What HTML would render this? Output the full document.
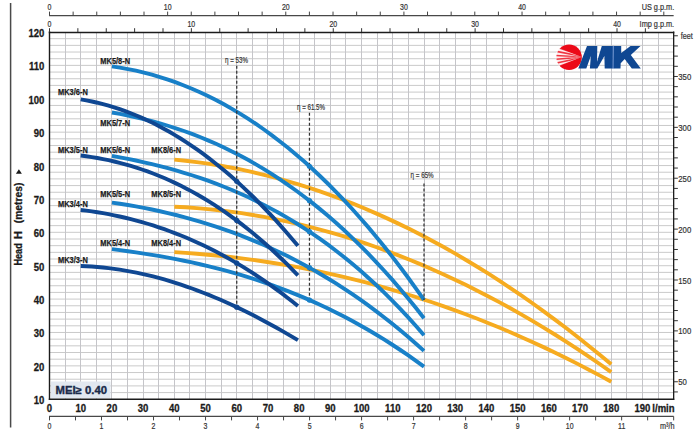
<!DOCTYPE html>
<html><head><meta charset="utf-8"><title>MK pump performance curves</title>
<style>
html,body{margin:0;padding:0;background:#fff;}
body{width:700px;height:435px;overflow:hidden;font-family:"Liberation Sans",sans-serif;}
svg text{font-family:"Liberation Sans",sans-serif;}
</style></head><body>
<svg width="700" height="435" viewBox="0 0 700 435" style="display:block">
<rect width="700" height="435" fill="#ffffff"/>
<line x1="10.6" y1="3" x2="10.6" y2="427.5" stroke="#4a4a4a" stroke-width="1.5"/>
<path d="M49.50 392.57H673.66M49.50 385.90H673.66M49.50 379.22H673.66M49.50 372.54H673.66M49.50 365.86H673.66M49.50 359.19H673.66M49.50 352.51H673.66M49.50 345.83H673.66M49.50 339.16H673.66M49.50 332.48H673.66M49.50 325.80H673.66M49.50 319.12H673.66M49.50 312.45H673.66M49.50 305.77H673.66M49.50 299.09H673.66M49.50 292.41H673.66M49.50 285.74H673.66M49.50 279.06H673.66M49.50 272.38H673.66M49.50 265.71H673.66M49.50 259.03H673.66M49.50 252.35H673.66M49.50 245.67H673.66M49.50 239.00H673.66M49.50 232.32H673.66M49.50 225.64H673.66M49.50 218.97H673.66M49.50 212.29H673.66M49.50 205.61H673.66M49.50 198.93H673.66M49.50 192.26H673.66M49.50 185.58H673.66M49.50 178.90H673.66M49.50 172.23H673.66M49.50 165.55H673.66M49.50 158.87H673.66M49.50 152.19H673.66M49.50 145.52H673.66M49.50 138.84H673.66M49.50 132.16H673.66M49.50 125.48H673.66M49.50 118.81H673.66M49.50 112.13H673.66M49.50 105.45H673.66M49.50 98.78H673.66M49.50 92.10H673.66M49.50 85.42H673.66M49.50 78.74H673.66M49.50 72.07H673.66M49.50 65.39H673.66M49.50 58.71H673.66M49.50 52.04H673.66M49.50 45.36H673.66M49.50 38.68H673.66" stroke="#bcbcbc" stroke-width="0.8" fill="none"/>
<path d="M65.10 32.00V399.25M80.71 32.00V399.25M96.31 32.00V399.25M111.92 32.00V399.25M127.52 32.00V399.25M143.12 32.00V399.25M158.73 32.00V399.25M174.33 32.00V399.25M189.94 32.00V399.25M205.54 32.00V399.25M221.14 32.00V399.25M236.75 32.00V399.25M252.35 32.00V399.25M267.96 32.00V399.25M283.56 32.00V399.25M299.16 32.00V399.25M314.77 32.00V399.25M330.37 32.00V399.25M345.98 32.00V399.25M361.58 32.00V399.25M377.18 32.00V399.25M392.79 32.00V399.25M408.39 32.00V399.25M424.00 32.00V399.25M439.60 32.00V399.25M455.20 32.00V399.25M470.81 32.00V399.25M486.41 32.00V399.25M502.02 32.00V399.25M517.62 32.00V399.25M533.22 32.00V399.25M548.83 32.00V399.25M564.43 32.00V399.25M580.04 32.00V399.25M595.64 32.00V399.25M611.24 32.00V399.25M626.85 32.00V399.25M642.45 32.00V399.25M658.06 32.00V399.25" stroke="#c5c5c9" stroke-width="1" fill="none" shape-rendering="crispEdges"/>
<rect x="51" y="381.5" width="59.5" height="17" fill="#e2e8f0"/>
<text x="55.5" y="393.8" font-size="10.8" font-weight="bold" fill="#1a2a4a" stroke="#1a2a4a" stroke-width="0.35" textLength="51.5" lengthAdjust="spacingAndGlyphs">MEI≥ 0.40</text>
<g>
<circle cx="569.1" cy="57.2" r="12.7" fill="#ec0a18"/>
<g>
<path d="M581.6 56.9L558.5 47.5L555.3 57.3L558.6 66.6Z" fill="#fff" opacity="0.18"/>
<path d="M581.6 56.9Q569.90 52.58 558.54 48.60L557.86 50.80Q569.90 52.58 581.6 56.9Z" fill="#fff" opacity="0.9"/>
<path d="M581.6 56.9Q568.80 54.86 556.15 52.36L555.85 54.64Q568.80 54.86 581.6 56.9Z" fill="#fff" opacity="0.9"/>
<path d="M581.6 56.9Q568.60 57.14 555.58 56.15L555.62 58.45Q568.60 57.14 581.6 56.9Z" fill="#fff" opacity="0.9"/>
<path d="M581.6 56.9Q568.90 59.42 556.01 59.97L556.39 62.23Q568.90 59.42 581.6 56.9Z" fill="#fff" opacity="0.9"/>
<path d="M581.6 56.9Q570.00 61.52 558.04 63.51L558.76 65.69Q570.00 61.52 581.6 56.9Z" fill="#fff" opacity="0.9"/>
</g>
<rect x="612.2" y="45.9" width="2" height="22.6" fill="#6a8fcc"/>
<path d="M578.3 68.5L587 45.9L597.3 45.9L597 61.7L601.8 45.9L612.8 45.9L612.6 68.5L604.7 68.5L604.4 55.9L597.3 68.5L589.9 68.5L590.8 55.9L586.3 68.5Z" fill="#0f4792"/>
<path d="M613.6 68.5L614 45.9L621.2 45.9L621.2 53L630.5 45.9L640.5 45.9L630.8 54.9L640.8 68.5L631.8 68.5L624.7 59.1L620.7 63.3L620.5 68.5Z" fill="#0f4792"/>
</g>
<path d="M174.33 159.59L185.53 160.73L196.74 162.09L207.94 163.66L219.14 165.46L230.35 167.47L241.55 169.69L252.75 172.14L263.95 174.80L275.16 177.68L286.36 180.78L297.56 184.09L308.77 187.62L319.97 191.37L331.17 195.33L342.38 199.51L353.58 203.90L364.78 208.51L375.98 213.34L387.19 218.38L398.39 223.64L409.59 229.11L420.80 234.80L432.00 240.71L443.20 246.83L454.40 253.16L465.61 259.71L476.81 266.47L488.01 273.45L499.22 280.65L510.42 288.06L521.62 295.68L532.82 303.52L544.03 311.57L555.23 319.83L566.43 328.31L577.64 337.00L588.84 345.91L600.04 355.03L611.24 364.36" stroke="#f6ab1f" stroke-width="3.9" fill="none" stroke-linecap="butt"/>
<path d="M174.33 206.70L185.53 207.30L196.74 208.09L207.94 209.07L219.14 210.25L230.35 211.63L241.55 213.19L252.75 214.95L263.95 216.90L275.16 219.05L286.36 221.38L297.56 223.91L308.77 226.63L319.97 229.55L331.17 232.65L342.38 235.95L353.58 239.44L364.78 243.12L375.98 246.99L387.19 251.05L398.39 255.31L409.59 259.75L420.80 264.38L432.00 269.21L443.20 274.22L454.40 279.42L465.61 284.82L476.81 290.40L488.01 296.17L499.22 302.13L510.42 308.28L521.62 314.62L532.82 321.14L544.03 327.86L555.23 334.76L566.43 341.85L577.64 349.13L588.84 356.60L600.04 364.25L611.24 372.09" stroke="#f6ab1f" stroke-width="3.9" fill="none" stroke-linecap="butt"/>
<path d="M174.33 252.17L185.53 252.88L196.74 253.72L207.94 254.69L219.14 255.79L230.35 257.01L241.55 258.37L252.75 259.86L263.95 261.49L275.16 263.24L286.36 265.13L297.56 267.16L308.77 269.32L319.97 271.62L331.17 274.05L342.38 276.62L353.58 279.34L364.78 282.19L375.98 285.18L387.19 288.31L398.39 291.58L409.59 295.00L420.80 298.56L432.00 302.26L443.20 306.11L454.40 310.10L465.61 314.24L476.81 318.53L488.01 322.97L499.22 327.55L510.42 332.28L521.62 337.17L532.82 342.20L544.03 347.39L555.23 352.73L566.43 358.22L577.64 363.87L588.84 369.67L600.04 375.62L611.24 381.74" stroke="#f6ab1f" stroke-width="3.9" fill="none" stroke-linecap="butt"/>
<path d="M111.92 66.40L119.92 67.62L127.92 69.05L135.92 70.71L143.92 72.59L151.93 74.70L159.93 77.04L167.93 79.61L175.93 82.41L183.93 85.46L191.94 88.74L199.94 92.27L207.94 96.04L215.94 100.06L223.94 104.33L231.95 108.85L239.95 113.63L247.95 118.66L255.95 123.96L263.95 129.52L271.96 135.34L279.96 141.43L287.96 147.80L295.96 154.44L303.97 161.35L311.97 168.54L319.97 176.01L327.97 183.77L335.97 191.81L343.98 200.14L351.98 208.77L359.98 217.68L367.98 226.90L375.98 236.41L383.99 246.22L391.99 256.34L399.99 266.76L407.99 277.50L415.99 288.54L424.00 299.90" stroke="#1880c8" stroke-width="3.9" fill="none" stroke-linecap="butt"/>
<path d="M111.92 112.52L119.92 113.95L127.92 115.52L135.92 117.24L143.92 119.12L151.93 121.16L159.93 123.37L167.93 125.75L175.93 128.30L183.93 131.02L191.94 133.94L199.94 137.04L207.94 140.33L215.94 143.82L223.94 147.51L231.95 151.41L239.95 155.51L247.95 159.83L255.95 164.37L263.95 169.14L271.96 174.13L279.96 179.35L287.96 184.81L295.96 190.52L303.97 196.46L311.97 202.66L319.97 209.12L327.97 215.83L335.97 222.81L343.98 230.05L351.98 237.57L359.98 245.37L367.98 253.44L375.98 261.81L383.99 270.46L391.99 279.41L399.99 288.66L407.99 298.21L415.99 308.08L424.00 318.25" stroke="#1880c8" stroke-width="3.9" fill="none" stroke-linecap="butt"/>
<path d="M111.92 155.86L119.92 157.32L127.92 158.88L135.92 160.53L143.92 162.28L151.93 164.14L159.93 166.11L167.93 168.20L175.93 170.42L183.93 172.77L191.94 175.26L199.94 177.89L207.94 180.68L215.94 183.62L223.94 186.72L231.95 190.00L239.95 193.44L247.95 197.07L255.95 200.89L263.95 204.90L271.96 209.11L279.96 213.52L287.96 218.15L295.96 223.00L303.97 228.07L311.97 233.37L319.97 238.90L327.97 244.68L335.97 250.71L343.98 256.99L351.98 263.54L359.98 270.35L367.98 277.43L375.98 284.79L383.99 292.44L391.99 300.38L399.99 308.62L407.99 317.16L415.99 326.01L424.00 335.18" stroke="#1880c8" stroke-width="3.9" fill="none" stroke-linecap="butt"/>
<path d="M111.92 202.58L119.92 203.77L127.92 205.05L135.92 206.44L143.92 207.93L151.93 209.53L159.93 211.24L167.93 213.07L175.93 215.01L183.93 217.08L191.94 219.26L199.94 221.58L207.94 224.03L215.94 226.60L223.94 229.32L231.95 232.18L239.95 235.18L247.95 238.32L255.95 241.62L263.95 245.06L271.96 248.66L279.96 252.43L287.96 256.35L295.96 260.44L303.97 264.69L311.97 269.12L319.97 273.72L327.97 278.50L335.97 283.46L343.98 288.61L351.98 293.94L359.98 299.46L367.98 305.18L375.98 311.09L383.99 317.20L391.99 323.52L399.99 330.04L407.99 336.77L415.99 343.71L424.00 350.87" stroke="#1880c8" stroke-width="3.9" fill="none" stroke-linecap="butt"/>
<path d="M111.92 249.18L119.92 250.18L127.92 251.24L135.92 252.37L143.92 253.57L151.93 254.85L159.93 256.20L167.93 257.63L175.93 259.15L183.93 260.75L191.94 262.45L199.94 264.24L207.94 266.12L215.94 268.11L223.94 270.20L231.95 272.41L239.95 274.72L247.95 277.15L255.95 279.70L263.95 282.36L271.96 285.16L279.96 288.08L287.96 291.14L295.96 294.33L303.97 297.66L311.97 301.13L319.97 304.75L327.97 308.52L335.97 312.45L343.98 316.52L351.98 320.76L359.98 325.17L367.98 329.73L375.98 334.47L383.99 339.39L391.99 344.48L399.99 349.75L407.99 355.20L415.99 360.85L424.00 366.68" stroke="#1880c8" stroke-width="3.9" fill="none" stroke-linecap="butt"/>
<path d="M80.71 99.39L86.28 100.36L91.85 101.48L97.42 102.73L102.99 104.12L108.56 105.66L114.12 107.34L119.69 109.16L125.26 111.12L130.83 113.23L136.40 115.48L141.97 117.87L147.54 120.42L153.11 123.10L158.68 125.94L164.25 128.92L169.82 132.04L175.39 135.32L180.96 138.74L186.53 142.31L192.10 146.04L197.67 149.91L203.24 153.93L208.80 158.11L214.37 162.43L219.94 166.91L225.51 171.54L231.08 176.32L236.65 181.26L242.22 186.35L247.79 191.60L253.36 197.00L258.93 202.56L264.50 208.27L270.07 214.14L275.64 220.17L281.21 226.36L286.78 232.70L292.35 239.21L297.92 245.87" stroke="#0f4792" stroke-width="3.9" fill="none" stroke-linecap="butt"/>
<path d="M80.71 155.53L86.28 156.26L91.85 157.09L97.42 158.02L102.99 159.06L108.56 160.21L114.12 161.48L119.69 162.85L125.26 164.34L130.83 165.94L136.40 167.66L141.97 169.50L147.54 171.46L153.11 173.54L158.68 175.74L164.25 178.07L169.82 180.52L175.39 183.11L180.96 185.82L186.53 188.66L192.10 191.63L197.67 194.74L203.24 197.99L208.80 201.37L214.37 204.89L219.94 208.55L225.51 212.35L231.08 216.30L236.65 220.39L242.22 224.62L247.79 229.01L253.36 233.54L258.93 238.23L264.50 243.06L270.07 248.06L275.64 253.20L281.21 258.51L286.78 263.97L292.35 269.60L297.92 275.39" stroke="#0f4792" stroke-width="3.9" fill="none" stroke-linecap="butt"/>
<path d="M80.71 209.95L86.28 210.64L91.85 211.40L97.42 212.25L102.99 213.18L108.56 214.20L114.12 215.30L119.69 216.49L125.26 217.76L130.83 219.13L136.40 220.58L141.97 222.12L147.54 223.75L153.11 225.48L158.68 227.30L164.25 229.21L169.82 231.22L175.39 233.32L180.96 235.52L186.53 237.82L192.10 240.22L197.67 242.72L203.24 245.32L208.80 248.03L214.37 250.83L219.94 253.74L225.51 256.76L231.08 259.88L236.65 263.11L242.22 266.45L247.79 269.90L253.36 273.46L258.93 277.13L264.50 280.91L270.07 284.81L275.64 288.82L281.21 292.94L286.78 297.18L292.35 301.54L297.92 306.02" stroke="#0f4792" stroke-width="3.9" fill="none" stroke-linecap="butt"/>
<path d="M80.71 266.04L86.28 266.25L91.85 266.57L97.42 266.98L102.99 267.50L108.56 268.12L114.12 268.83L119.69 269.64L125.26 270.55L130.83 271.55L136.40 272.65L141.97 273.83L147.54 275.11L153.11 276.48L158.68 277.94L164.25 279.49L169.82 281.13L175.39 282.85L180.96 284.65L186.53 286.54L192.10 288.51L197.67 290.57L203.24 292.70L208.80 294.91L214.37 297.21L219.94 299.57L225.51 302.02L231.08 304.54L236.65 307.13L242.22 309.79L247.79 312.53L253.36 315.34L258.93 318.21L264.50 321.16L270.07 324.17L275.64 327.24L281.21 330.39L286.78 333.59L292.35 336.86L297.92 340.19" stroke="#0f4792" stroke-width="3.9" fill="none" stroke-linecap="butt"/>
<line x1="236.75" y1="65.8" x2="236.75" y2="307.17" stroke="#333" stroke-width="1.25" stroke-dasharray="3 2"/>
<circle cx="236.75" cy="181.35" r="2.6" fill="#0f4792"/>
<circle cx="236.75" cy="220.46" r="2.6" fill="#0f4792"/>
<circle cx="236.75" cy="263.17" r="2.6" fill="#0f4792"/>
<circle cx="236.75" cy="307.17" r="2.6" fill="#0f4792"/>
<text x="225" y="62.9" font-size="8.8" fill="#333" stroke="#333" stroke-width="0.2" textLength="23.0" lengthAdjust="spacingAndGlyphs">η = 53%</text>
<line x1="309.46" y1="112.8" x2="309.46" y2="300.03" stroke="#333" stroke-width="1.25" stroke-dasharray="3 2"/>
<circle cx="309.46" cy="166.26" r="2.6" fill="#1880c8"/>
<circle cx="309.46" cy="200.70" r="2.6" fill="#1880c8"/>
<circle cx="309.46" cy="231.68" r="2.6" fill="#1880c8"/>
<circle cx="309.46" cy="267.72" r="2.6" fill="#1880c8"/>
<circle cx="309.46" cy="300.03" r="2.6" fill="#1880c8"/>
<text x="297" y="109.9" font-size="8.8" fill="#333" stroke="#333" stroke-width="0.2" textLength="28.0" lengthAdjust="spacingAndGlyphs">η = 61.5%</text>
<line x1="424.00" y1="183.6" x2="424.00" y2="299.90" stroke="#333" stroke-width="1.25" stroke-dasharray="3 2"/>
<text x="410.5" y="178.0" font-size="8.8" fill="#333" stroke="#333" stroke-width="0.2" textLength="23.2" lengthAdjust="spacingAndGlyphs">η = 65%</text>
<path d="M49.50 31.30V400.05" stroke="#1c1c1c" stroke-width="1.4" fill="none"/>
<path d="M48.80 32.50H674.26" stroke="#1c1c1c" stroke-width="1.6" fill="none"/>
<path d="M48.80 399.25H674.26" stroke="#1c1c1c" stroke-width="1.6" fill="none"/>
<path d="M673.66 31.50V400.05" stroke="#1c1c1c" stroke-width="1.3" fill="none"/>
<path d="M49.50 32.00V28.20M77.87 32.00V28.20M106.25 32.00V28.20M134.62 32.00V28.20M163.00 32.00V28.20M191.37 32.00V28.20M219.75 32.00V28.20M248.12 32.00V28.20M276.50 32.00V28.20M304.87 32.00V28.20M333.25 32.00V28.20M361.62 32.00V28.20M390.00 32.00V28.20M418.37 32.00V28.20M446.75 32.00V28.20M475.12 32.00V28.20M503.50 32.00V28.20M531.87 32.00V28.20M560.25 32.00V28.20M588.62 32.00V28.20M617.00 32.00V28.20M645.37 32.00V28.20" stroke="#333" stroke-width="1" fill="none"/>
<path d="M49.10 15.7H673.66" stroke="#484848" stroke-width="1.3" fill="none"/>
<path d="M49.50 15.7V11.6M73.13 15.7V11.6M96.75 15.7V11.6M120.38 15.7V11.6M144.01 15.7V11.6M167.64 15.7V11.6M191.26 15.7V11.6M214.89 15.7V11.6M238.52 15.7V11.6M262.14 15.7V11.6M285.77 15.7V11.6M309.40 15.7V11.6M333.02 15.7V11.6M356.65 15.7V11.6M380.28 15.7V11.6M403.91 15.7V11.6M427.53 15.7V11.6M451.16 15.7V11.6M474.79 15.7V11.6M498.41 15.7V11.6M522.04 15.7V11.6M545.67 15.7V11.6M569.29 15.7V11.6M592.92 15.7V11.6M616.55 15.7V11.6M640.18 15.7V11.6M663.80 15.7V11.6" stroke="#444" stroke-width="1" fill="none"/>
<path d="M49.10 416.3H673.66" stroke="#484848" stroke-width="1.3" fill="none"/>
<path d="M49.50 416.3V420.4M75.51 416.3V420.4M101.51 416.3V420.4M127.52 416.3V420.4M153.53 416.3V420.4M179.53 416.3V420.4M205.54 416.3V420.4M231.55 416.3V420.4M257.55 416.3V420.4M283.56 416.3V420.4M309.57 416.3V420.4M335.57 416.3V420.4M361.58 416.3V420.4M387.59 416.3V420.4M413.59 416.3V420.4M439.60 416.3V420.4M465.61 416.3V420.4M491.61 416.3V420.4M517.62 416.3V420.4M543.63 416.3V420.4M569.63 416.3V420.4M595.64 416.3V420.4M621.65 416.3V420.4M647.65 416.3V420.4M673.66 416.3V420.4" stroke="#444" stroke-width="1" fill="none"/>
<path d="M673.66 391.93H677.86M673.66 381.76H677.86M673.66 371.58H677.86M673.66 361.40H677.86M673.66 351.23H677.86M673.66 341.05H677.86M673.66 330.88H677.86M673.66 320.70H677.86M673.66 310.52H677.86M673.66 300.35H677.86M673.66 290.17H677.86M673.66 280.00H677.86M673.66 269.82H677.86M673.66 259.64H677.86M673.66 249.47H677.86M673.66 239.29H677.86M673.66 229.11H677.86M673.66 218.94H677.86M673.66 208.76H677.86M673.66 198.59H677.86M673.66 188.41H677.86M673.66 178.23H677.86M673.66 168.06H677.86M673.66 157.88H677.86M673.66 147.71H677.86M673.66 137.53H677.86M673.66 127.35H677.86M673.66 117.18H677.86M673.66 107.00H677.86M673.66 96.83H677.86M673.66 86.65H677.86M673.66 76.47H677.86M673.66 66.30H677.86M673.66 56.12H677.86M673.66 45.95H677.86M673.66 35.77H677.86" stroke="#333" stroke-width="1" fill="none"/>
<text transform="translate(49.50,10.00) scale(0.72,1)" font-size="9.7" font-weight="normal" text-anchor="middle" fill="#333" stroke="#333" stroke-width="0.22" >0</text>
<text transform="translate(49.50,26.90) scale(0.72,1)" font-size="9.7" font-weight="normal" text-anchor="middle" fill="#333" stroke="#333" stroke-width="0.22" >0</text>
<text transform="translate(167.64,10.00) scale(0.72,1)" font-size="9.7" font-weight="normal" text-anchor="middle" fill="#333" stroke="#333" stroke-width="0.22" >10</text>
<text transform="translate(191.37,26.90) scale(0.72,1)" font-size="9.7" font-weight="normal" text-anchor="middle" fill="#333" stroke="#333" stroke-width="0.22" >10</text>
<text transform="translate(285.77,10.00) scale(0.72,1)" font-size="9.7" font-weight="normal" text-anchor="middle" fill="#333" stroke="#333" stroke-width="0.22" >20</text>
<text transform="translate(333.25,26.90) scale(0.72,1)" font-size="9.7" font-weight="normal" text-anchor="middle" fill="#333" stroke="#333" stroke-width="0.22" >20</text>
<text transform="translate(403.91,10.00) scale(0.72,1)" font-size="9.7" font-weight="normal" text-anchor="middle" fill="#333" stroke="#333" stroke-width="0.22" >30</text>
<text transform="translate(475.12,26.90) scale(0.72,1)" font-size="9.7" font-weight="normal" text-anchor="middle" fill="#333" stroke="#333" stroke-width="0.22" >30</text>
<text transform="translate(522.04,10.00) scale(0.72,1)" font-size="9.7" font-weight="normal" text-anchor="middle" fill="#333" stroke="#333" stroke-width="0.22" >40</text>
<text transform="translate(617.00,26.90) scale(0.72,1)" font-size="9.7" font-weight="normal" text-anchor="middle" fill="#333" stroke="#333" stroke-width="0.22" >40</text>
<text transform="translate(674.16,10.00) scale(0.755,1)" font-size="9.7" font-weight="normal" text-anchor="end" fill="#333" stroke="#333" stroke-width="0.22" >US g.p.m.</text>
<text transform="translate(674.16,26.90) scale(0.755,1)" font-size="9.7" font-weight="normal" text-anchor="end" fill="#333" stroke="#333" stroke-width="0.22" >Imp g.p.m.</text>
<text transform="translate(680.80,38.90) scale(0.745,1)" font-size="9.7" font-weight="normal" text-anchor="start" fill="#333" stroke="#333" stroke-width="0.22" >feet</text>
<text transform="translate(678.30,385.36) scale(0.8,1)" font-size="9.7" font-weight="normal" text-anchor="start" fill="#333" stroke="#333" stroke-width="0.22" >50</text>
<text transform="translate(678.30,334.48) scale(0.8,1)" font-size="9.7" font-weight="normal" text-anchor="start" fill="#333" stroke="#333" stroke-width="0.22" >100</text>
<text transform="translate(678.30,283.60) scale(0.8,1)" font-size="9.7" font-weight="normal" text-anchor="start" fill="#333" stroke="#333" stroke-width="0.22" >150</text>
<text transform="translate(678.30,232.71) scale(0.8,1)" font-size="9.7" font-weight="normal" text-anchor="start" fill="#333" stroke="#333" stroke-width="0.22" >200</text>
<text transform="translate(678.30,181.83) scale(0.8,1)" font-size="9.7" font-weight="normal" text-anchor="start" fill="#333" stroke="#333" stroke-width="0.22" >250</text>
<text transform="translate(678.30,130.95) scale(0.8,1)" font-size="9.7" font-weight="normal" text-anchor="start" fill="#333" stroke="#333" stroke-width="0.22" >300</text>
<text transform="translate(678.30,80.07) scale(0.8,1)" font-size="9.7" font-weight="normal" text-anchor="start" fill="#333" stroke="#333" stroke-width="0.22" >350</text>
<text transform="translate(49.50,428.60) scale(0.72,1)" font-size="9.7" font-weight="normal" text-anchor="middle" fill="#333" stroke="#333" stroke-width="0.22" >0</text>
<text transform="translate(101.51,428.60) scale(0.72,1)" font-size="9.7" font-weight="normal" text-anchor="middle" fill="#333" stroke="#333" stroke-width="0.22" >1</text>
<text transform="translate(153.53,428.60) scale(0.72,1)" font-size="9.7" font-weight="normal" text-anchor="middle" fill="#333" stroke="#333" stroke-width="0.22" >2</text>
<text transform="translate(205.54,428.60) scale(0.72,1)" font-size="9.7" font-weight="normal" text-anchor="middle" fill="#333" stroke="#333" stroke-width="0.22" >3</text>
<text transform="translate(257.55,428.60) scale(0.72,1)" font-size="9.7" font-weight="normal" text-anchor="middle" fill="#333" stroke="#333" stroke-width="0.22" >4</text>
<text transform="translate(309.57,428.60) scale(0.72,1)" font-size="9.7" font-weight="normal" text-anchor="middle" fill="#333" stroke="#333" stroke-width="0.22" >5</text>
<text transform="translate(361.58,428.60) scale(0.72,1)" font-size="9.7" font-weight="normal" text-anchor="middle" fill="#333" stroke="#333" stroke-width="0.22" >6</text>
<text transform="translate(413.59,428.60) scale(0.72,1)" font-size="9.7" font-weight="normal" text-anchor="middle" fill="#333" stroke="#333" stroke-width="0.22" >7</text>
<text transform="translate(465.61,428.60) scale(0.72,1)" font-size="9.7" font-weight="normal" text-anchor="middle" fill="#333" stroke="#333" stroke-width="0.22" >8</text>
<text transform="translate(517.62,428.60) scale(0.72,1)" font-size="9.7" font-weight="normal" text-anchor="middle" fill="#333" stroke="#333" stroke-width="0.22" >9</text>
<text transform="translate(569.63,428.60) scale(0.72,1)" font-size="9.7" font-weight="normal" text-anchor="middle" fill="#333" stroke="#333" stroke-width="0.22" >10</text>
<text transform="translate(621.65,428.60) scale(0.72,1)" font-size="9.7" font-weight="normal" text-anchor="middle" fill="#333" stroke="#333" stroke-width="0.22" >11</text>
<text transform="translate(674.46,428.60) scale(0.75,1)" font-size="9.7" font-weight="normal" text-anchor="end" fill="#333" stroke="#333" stroke-width="0.22" >m³/h</text>
<text transform="translate(44.40,404.25) scale(0.9,1)" font-size="10.6" font-weight="bold" text-anchor="end" fill="#1a1a1a" stroke="#1a1a1a" stroke-width="0.3" >10</text>
<text transform="translate(44.40,370.86) scale(0.9,1)" font-size="10.6" font-weight="bold" text-anchor="end" fill="#1a1a1a" stroke="#1a1a1a" stroke-width="0.3" >20</text>
<text transform="translate(44.40,337.48) scale(0.9,1)" font-size="10.6" font-weight="bold" text-anchor="end" fill="#1a1a1a" stroke="#1a1a1a" stroke-width="0.3" >30</text>
<text transform="translate(44.40,304.09) scale(0.9,1)" font-size="10.6" font-weight="bold" text-anchor="end" fill="#1a1a1a" stroke="#1a1a1a" stroke-width="0.3" >40</text>
<text transform="translate(44.40,270.71) scale(0.9,1)" font-size="10.6" font-weight="bold" text-anchor="end" fill="#1a1a1a" stroke="#1a1a1a" stroke-width="0.3" >50</text>
<text transform="translate(44.40,237.32) scale(0.9,1)" font-size="10.6" font-weight="bold" text-anchor="end" fill="#1a1a1a" stroke="#1a1a1a" stroke-width="0.3" >60</text>
<text transform="translate(44.40,203.93) scale(0.9,1)" font-size="10.6" font-weight="bold" text-anchor="end" fill="#1a1a1a" stroke="#1a1a1a" stroke-width="0.3" >70</text>
<text transform="translate(44.40,170.55) scale(0.9,1)" font-size="10.6" font-weight="bold" text-anchor="end" fill="#1a1a1a" stroke="#1a1a1a" stroke-width="0.3" >80</text>
<text transform="translate(44.40,137.16) scale(0.9,1)" font-size="10.6" font-weight="bold" text-anchor="end" fill="#1a1a1a" stroke="#1a1a1a" stroke-width="0.3" >90</text>
<text transform="translate(44.40,103.78) scale(0.9,1)" font-size="10.6" font-weight="bold" text-anchor="end" fill="#1a1a1a" stroke="#1a1a1a" stroke-width="0.3" >100</text>
<text transform="translate(44.40,70.39) scale(0.9,1)" font-size="10.6" font-weight="bold" text-anchor="end" fill="#1a1a1a" stroke="#1a1a1a" stroke-width="0.3" >110</text>
<text transform="translate(44.40,37.00) scale(0.9,1)" font-size="10.6" font-weight="bold" text-anchor="end" fill="#1a1a1a" stroke="#1a1a1a" stroke-width="0.3" >120</text>
<text transform="translate(49.50,412.00) scale(0.9,1)" font-size="10.6" font-weight="bold" text-anchor="middle" fill="#1a1a1a" stroke="#1a1a1a" stroke-width="0.3" >0</text>
<text transform="translate(80.71,412.00) scale(0.9,1)" font-size="10.6" font-weight="bold" text-anchor="middle" fill="#1a1a1a" stroke="#1a1a1a" stroke-width="0.3" >10</text>
<text transform="translate(111.92,412.00) scale(0.9,1)" font-size="10.6" font-weight="bold" text-anchor="middle" fill="#1a1a1a" stroke="#1a1a1a" stroke-width="0.3" >20</text>
<text transform="translate(143.12,412.00) scale(0.9,1)" font-size="10.6" font-weight="bold" text-anchor="middle" fill="#1a1a1a" stroke="#1a1a1a" stroke-width="0.3" >30</text>
<text transform="translate(174.33,412.00) scale(0.9,1)" font-size="10.6" font-weight="bold" text-anchor="middle" fill="#1a1a1a" stroke="#1a1a1a" stroke-width="0.3" >40</text>
<text transform="translate(205.54,412.00) scale(0.9,1)" font-size="10.6" font-weight="bold" text-anchor="middle" fill="#1a1a1a" stroke="#1a1a1a" stroke-width="0.3" >50</text>
<text transform="translate(236.75,412.00) scale(0.9,1)" font-size="10.6" font-weight="bold" text-anchor="middle" fill="#1a1a1a" stroke="#1a1a1a" stroke-width="0.3" >60</text>
<text transform="translate(267.96,412.00) scale(0.9,1)" font-size="10.6" font-weight="bold" text-anchor="middle" fill="#1a1a1a" stroke="#1a1a1a" stroke-width="0.3" >70</text>
<text transform="translate(299.16,412.00) scale(0.9,1)" font-size="10.6" font-weight="bold" text-anchor="middle" fill="#1a1a1a" stroke="#1a1a1a" stroke-width="0.3" >80</text>
<text transform="translate(330.37,412.00) scale(0.9,1)" font-size="10.6" font-weight="bold" text-anchor="middle" fill="#1a1a1a" stroke="#1a1a1a" stroke-width="0.3" >90</text>
<text transform="translate(361.58,412.00) scale(0.9,1)" font-size="10.6" font-weight="bold" text-anchor="middle" fill="#1a1a1a" stroke="#1a1a1a" stroke-width="0.3" >100</text>
<text transform="translate(392.79,412.00) scale(0.9,1)" font-size="10.6" font-weight="bold" text-anchor="middle" fill="#1a1a1a" stroke="#1a1a1a" stroke-width="0.3" >110</text>
<text transform="translate(424.00,412.00) scale(0.9,1)" font-size="10.6" font-weight="bold" text-anchor="middle" fill="#1a1a1a" stroke="#1a1a1a" stroke-width="0.3" >120</text>
<text transform="translate(455.20,412.00) scale(0.9,1)" font-size="10.6" font-weight="bold" text-anchor="middle" fill="#1a1a1a" stroke="#1a1a1a" stroke-width="0.3" >130</text>
<text transform="translate(486.41,412.00) scale(0.9,1)" font-size="10.6" font-weight="bold" text-anchor="middle" fill="#1a1a1a" stroke="#1a1a1a" stroke-width="0.3" >140</text>
<text transform="translate(517.62,412.00) scale(0.9,1)" font-size="10.6" font-weight="bold" text-anchor="middle" fill="#1a1a1a" stroke="#1a1a1a" stroke-width="0.3" >150</text>
<text transform="translate(548.83,412.00) scale(0.9,1)" font-size="10.6" font-weight="bold" text-anchor="middle" fill="#1a1a1a" stroke="#1a1a1a" stroke-width="0.3" >160</text>
<text transform="translate(580.04,412.00) scale(0.9,1)" font-size="10.6" font-weight="bold" text-anchor="middle" fill="#1a1a1a" stroke="#1a1a1a" stroke-width="0.3" >170</text>
<text transform="translate(611.24,412.00) scale(0.9,1)" font-size="10.6" font-weight="bold" text-anchor="middle" fill="#1a1a1a" stroke="#1a1a1a" stroke-width="0.3" >180</text>
<text transform="translate(642.45,412.00) scale(0.9,1)" font-size="10.6" font-weight="bold" text-anchor="middle" fill="#1a1a1a" stroke="#1a1a1a" stroke-width="0.3" >190</text>
<text transform="translate(674.60,412.00) scale(0.9,1)" font-size="10.6" font-weight="bold" text-anchor="end" fill="#1a1a1a" stroke="#1a1a1a" stroke-width="0.3" >l/min</text>
<text transform="translate(22.0,265.6) rotate(-90)" font-size="10.8" font-weight="bold" fill="#1a1a1a" stroke="#1a1a1a" stroke-width="0.3" textLength="22.3" lengthAdjust="spacingAndGlyphs">Head</text>
<text transform="translate(22.0,239.0) rotate(-90)" font-size="10.8" font-weight="bold" fill="#1a1a1a" stroke="#1a1a1a" stroke-width="0.3" textLength="7.9" lengthAdjust="spacingAndGlyphs">H</text>
<text transform="translate(22.0,223.2) rotate(-90)" font-size="10.8" font-weight="bold" fill="#1a1a1a" stroke="#1a1a1a" stroke-width="0.3" textLength="40.6" lengthAdjust="spacingAndGlyphs">(metres)</text>
<path d="M15.9 173.7L21.9 173.7L18.9 169.2Z" fill="#1a1a1a"/>
<text x="100.3" y="63.7" font-size="8.8" font-weight="bold" fill="#1a1a1a" stroke="#1a1a1a" stroke-width="0.25" textLength="29.8" lengthAdjust="spacingAndGlyphs">MK5/8-N</text>
<text x="58" y="95" font-size="8.8" font-weight="bold" fill="#1a1a1a" stroke="#1a1a1a" stroke-width="0.25" textLength="29.8" lengthAdjust="spacingAndGlyphs">MK3/6-N</text>
<text x="100.3" y="126" font-size="8.8" font-weight="bold" fill="#1a1a1a" stroke="#1a1a1a" stroke-width="0.25" textLength="29.8" lengthAdjust="spacingAndGlyphs">MK5/7-N</text>
<text x="58" y="152.8" font-size="8.8" font-weight="bold" fill="#1a1a1a" stroke="#1a1a1a" stroke-width="0.25" textLength="29.8" lengthAdjust="spacingAndGlyphs">MK3/5-N</text>
<text x="100.3" y="152.8" font-size="8.8" font-weight="bold" fill="#1a1a1a" stroke="#1a1a1a" stroke-width="0.25" textLength="29.8" lengthAdjust="spacingAndGlyphs">MK5/6-N</text>
<text x="151.3" y="152.8" font-size="8.8" font-weight="bold" fill="#1a1a1a" stroke="#1a1a1a" stroke-width="0.25" textLength="29.8" lengthAdjust="spacingAndGlyphs">MK8/6-N</text>
<text x="100.3" y="197.3" font-size="8.8" font-weight="bold" fill="#1a1a1a" stroke="#1a1a1a" stroke-width="0.25" textLength="29.8" lengthAdjust="spacingAndGlyphs">MK5/5-N</text>
<text x="151.3" y="197.3" font-size="8.8" font-weight="bold" fill="#1a1a1a" stroke="#1a1a1a" stroke-width="0.25" textLength="29.8" lengthAdjust="spacingAndGlyphs">MK8/5-N</text>
<text x="58" y="207" font-size="8.8" font-weight="bold" fill="#1a1a1a" stroke="#1a1a1a" stroke-width="0.25" textLength="29.8" lengthAdjust="spacingAndGlyphs">MK3/4-N</text>
<text x="100.3" y="246.2" font-size="8.8" font-weight="bold" fill="#1a1a1a" stroke="#1a1a1a" stroke-width="0.25" textLength="29.8" lengthAdjust="spacingAndGlyphs">MK5/4-N</text>
<text x="151.3" y="246.2" font-size="8.8" font-weight="bold" fill="#1a1a1a" stroke="#1a1a1a" stroke-width="0.25" textLength="29.8" lengthAdjust="spacingAndGlyphs">MK8/4-N</text>
<text x="58" y="263.2" font-size="8.8" font-weight="bold" fill="#1a1a1a" stroke="#1a1a1a" stroke-width="0.25" textLength="29.8" lengthAdjust="spacingAndGlyphs">MK3/3-N</text>
</svg>
</body></html>
